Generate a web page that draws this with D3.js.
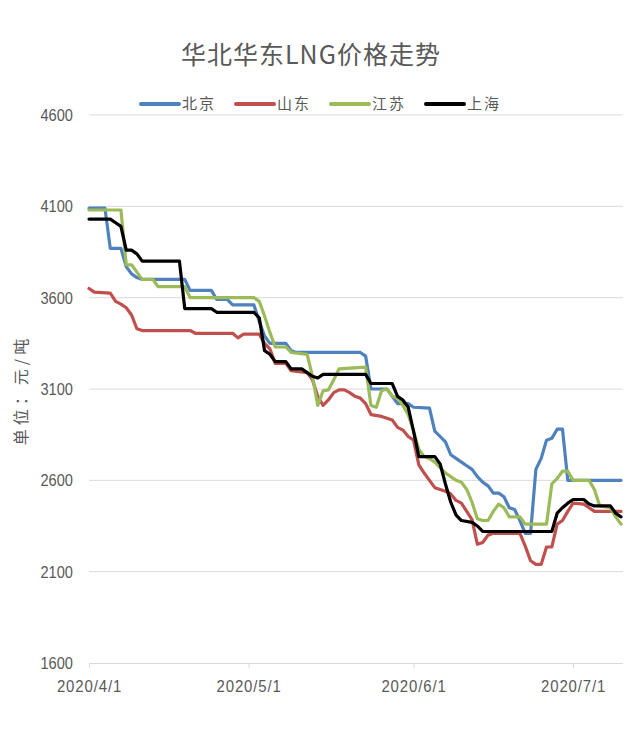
<!DOCTYPE html>
<html>
<head>
<meta charset="utf-8">
<script src="https://cdn.jsdelivr.net/npm/d3@7"></script>
<style>
  body { margin: 0; background: #fff; }
  svg { display: block; }
  .num { font-family: "Liberation Sans", Arial, sans-serif; fill: #595959; }
  .cjk { font-family: "Noto Sans CJK SC", sans-serif; fill: #595959; }
</style>
</head>
<body>
<div id="chart"></div>
<script>
// series: [date, price]
const beijing = [
  ["4/1",4090],["4/4",4090],["4/5",3870],["4/7",3870],["4/8",3770],["4/9",3730],["4/10",3710],
  ["4/11",3700],["4/19",3700],["4/20",3640],["4/24",3640],["4/25",3590],["4/27",3590],["4/28",3560],
  ["5/2",3560],["5/3",3470],["5/4",3390],["5/5",3350],["5/8",3350],["5/9",3310],["5/10",3300],
  ["5/22",3300],["5/23",3280],["5/24",3100],["5/27",3100],["5/28",3060],["5/29",3020],["5/31",3020],
  ["6/1",3000],["6/4",2995],["6/5",2870],["6/6",2840],["6/7",2810],["6/8",2740],["6/9",2720],
  ["6/10",2700],["6/11",2680],["6/12",2660],["6/13",2620],["6/14",2590],["6/15",2570],["6/16",2530],
  ["6/17",2530],["6/18",2510],["6/19",2450],["6/20",2440],["6/21",2380],["6/22",2310],["6/23",2310],
  ["6/24",2660],["6/25",2720],["6/26",2820],["6/27",2830],["6/28",2880],["6/29",2880],["6/30",2600],
  ["7/10",2600]
];
const shandong = [
  ["4/1",3650],["4/2",3630],["4/5",3625],["4/6",3580],["4/7",3565],["4/8",3545],["4/9",3505],
  ["4/10",3430],["4/11",3420],["4/20",3420],["4/21",3405],["4/28",3405],["4/29",3380],["4/30",3400],
  ["5/3",3400],["5/4",3350],["5/5",3320],["5/6",3240],["5/8",3240],["5/9",3200],["5/12",3190],
  ["5/13",3150],["5/14",3060],["5/15",3010],["5/16",3040],["5/17",3080],["5/18",3095],["5/19",3095],
  ["5/20",3080],["5/21",3060],["5/22",3050],["5/23",3020],["5/24",2960],["5/26",2950],["5/27",2940],
  ["5/28",2930],["5/29",2890],["5/30",2875],["5/31",2840],["6/1",2820],["6/2",2685],["6/3",2640],
  ["6/4",2600],["6/5",2560],["6/6",2550],["6/7",2540],["6/8",2525],["6/9",2490],["6/10",2475],
  ["6/11",2430],["6/12",2385],["6/13",2250],["6/14",2260],["6/15",2300],["6/16",2310],["6/21",2310],
  ["6/22",2240],["6/23",2160],["6/24",2140],["6/25",2140],["6/26",2235],["6/27",2235],["6/28",2360],
  ["6/29",2380],["6/30",2430],["7/1",2475],["7/3",2470],["7/4",2450],["7/5",2430],["7/10",2430]
];
const jiangsu = [
  ["4/1",4080],["4/7",4080],["4/8",3780],["4/9",3780],["4/10",3740],["4/11",3700],["4/13",3700],
  ["4/14",3660],["4/19",3660],["4/20",3600],["5/2",3600],["5/3",3580],["5/4",3500],["5/5",3410],
  ["5/6",3330],["5/8",3330],["5/9",3300],["5/12",3290],["5/13",3170],["5/14",3010],["5/15",3090],
  ["5/16",3095],["5/17",3150],["5/18",3210],["5/23",3220],["5/24",3010],["5/25",3000],["5/26",3090],
  ["5/27",3100],["5/28",3060],["5/29",3050],["5/30",3010],["5/31",2960],["6/1",2870],["6/2",2770],
  ["6/3",2730],["6/4",2720],["6/5",2700],["6/6",2670],["6/7",2640],["6/8",2620],["6/9",2600],
  ["6/10",2590],["6/11",2550],["6/12",2480],["6/13",2390],["6/14",2380],["6/15",2380],["6/16",2430],
  ["6/17",2470],["6/18",2450],["6/19",2400],["6/21",2400],["6/22",2360],["6/26",2360],["6/27",2580],
  ["6/28",2610],["6/29",2650],["6/30",2650],["7/1",2600],["7/4",2600],["7/5",2550],["7/6",2460],
  ["7/8",2450],["7/9",2400],["7/10",2360]
];
const shanghai = [
  ["4/1",4030],["4/5",4030],["4/6",4010],["4/7",3990],["4/8",3860],["4/9",3860],["4/10",3840],
  ["4/11",3800],["4/18",3800],["4/19",3540],["4/24",3540],["4/25",3520],["5/2",3520],["5/3",3490],
  ["5/4",3310],["5/5",3290],["5/6",3250],["5/8",3250],["5/9",3210],["5/11",3210],["5/12",3190],
  ["5/13",3170],["5/14",3160],["5/15",3180],["5/23",3180],["5/24",3130],["5/28",3130],["5/29",3060],
  ["5/30",3040],["5/31",3000],["6/1",2870],["6/2",2730],["6/5",2730],["6/6",2690],["6/7",2580],
  ["6/8",2480],["6/9",2410],["6/10",2380],["6/12",2370],["6/13",2350],["6/14",2320],["6/27",2320],
  ["6/28",2420],["6/29",2450],["6/30",2475],["7/1",2495],["7/3",2495],["7/4",2470],["7/5",2460],
  ["7/8",2460],["7/9",2420],["7/10",2400]
];

const seriesNames = ["北京", "山东", "江苏", "上海"];
const seriesData = [beijing, shandong, jiangsu, shanghai];
const seriesColors = ["#4f81bd", "#c0504d", "#9bbb59", "#000000"];
const yTicks = [1600, 2100, 2600, 3100, 3600, 4100, 4600];
const xTicks = ["2020/4/1", "2020/5/1", "2020/6/1", "2020/7/1"];

const width = 630, height = 738;
const margin = { left: 89, right: 9, top: 115, bottom: 75 };

const parseMD = d3.timeParse("%Y/%m/%d");
const toDate = md => parseMD("2020/" + md);

const svg = d3.select("#chart")
  .append("svg")
  .attr("width", width)
  .attr("height", height);

const x = d3.scaleTime()
  .domain([toDate("4/1"), toDate("7/10")])
  .range([margin.left, width - margin.right]);

const y = d3.scaleLinear()
  .domain([1600, 4600])
  .range([height - margin.bottom, margin.top]);

// title
svg.append("text")
  .attr("class", "cjk")
  .attr("x", 311)
  .attr("y", 64)
  .attr("text-anchor", "middle")
  .style("font-size", "25px")
  .style("letter-spacing", "1px")
  .text("华北华东LNG价格走势");

// gridlines
svg.append("g")
  .selectAll("line")
  .data(yTicks.slice(1))
  .join("line")
  .attr("x1", margin.left)
  .attr("x2", width - 7)
  .attr("y1", d => y(d))
  .attr("y2", d => y(d))
  .attr("stroke", "#d9d9d9")
  .attr("stroke-width", 1);

// y axis labels (narrowed like the original font)
const yAxis = d3.axisLeft(y).tickValues(yTicks).tickFormat(d3.format("d")).tickSize(0);
const gy = svg.append("g")
  .attr("transform", `translate(${margin.left},0)`)
  .call(yAxis);
gy.select(".domain").remove();
gy.selectAll("text")
  .attr("class", "num")
  .attr("x", 0)
  .attr("transform", "translate(-16,0) scale(0.86,1)")
  .style("font-size", "17px");

// x axis
const xAxis = d3.axisBottom(x)
  .tickValues(xTicks.map(parseMD))
  .tickFormat(d3.timeFormat("%Y/%-m/%-d"))
  .tickSizeInner(5)
  .tickSizeOuter(0)
  .tickPadding(12);
const gx = svg.append("g")
  .attr("transform", `translate(0,${y(1600)})`)
  .call(xAxis);
gx.select(".domain").attr("stroke", "#d9d9d9").attr("d", `M${margin.left},0.5H${width - 7}`);
gx.selectAll(".tick line").attr("stroke", "#d9d9d9");
gx.selectAll("text")
  .attr("class", "num")
  .attr("transform", "scale(0.88,1)")
  .style("font-size", "17px")
  .style("letter-spacing", "1px");

// y axis title
svg.append("text")
  .attr("class", "cjk")
  .attr("transform", "translate(27,390) rotate(-90)")
  .attr("text-anchor", "middle")
  .style("font-size", "16px")
  .style("letter-spacing", "4px")
  .text("单位：元/吨");

// lines
const line = d3.line()
  .x(d => x(toDate(d[0])))
  .y(d => y(d[1]));

svg.append("g")
  .selectAll("path")
  .data(seriesData)
  .join("path")
  .attr("fill", "none")
  .attr("stroke", (d, i) => seriesColors[i])
  .attr("stroke-width", 3.2)
  .attr("stroke-linejoin", "round")
  .attr("stroke-linecap", "round")
  .attr("d", line);

// legend
const legend = svg.append("g")
  .selectAll("g")
  .data(seriesNames)
  .join("g")
  .attr("transform", (d, i) => `translate(${141 + i * 95},104)`);

legend.append("line")
  .attr("x1", 0)
  .attr("x2", 38)
  .attr("stroke", (d, i) => seriesColors[i])
  .attr("stroke-width", 4)
  .attr("stroke-linecap", "round");

legend.append("text")
  .attr("class", "cjk")
  .attr("x", 41)
  .attr("dy", "0.36em")
  .style("font-size", "15px")
  .style("letter-spacing", "2px")
  .text(d => d);
</script>
</body>
</html>
